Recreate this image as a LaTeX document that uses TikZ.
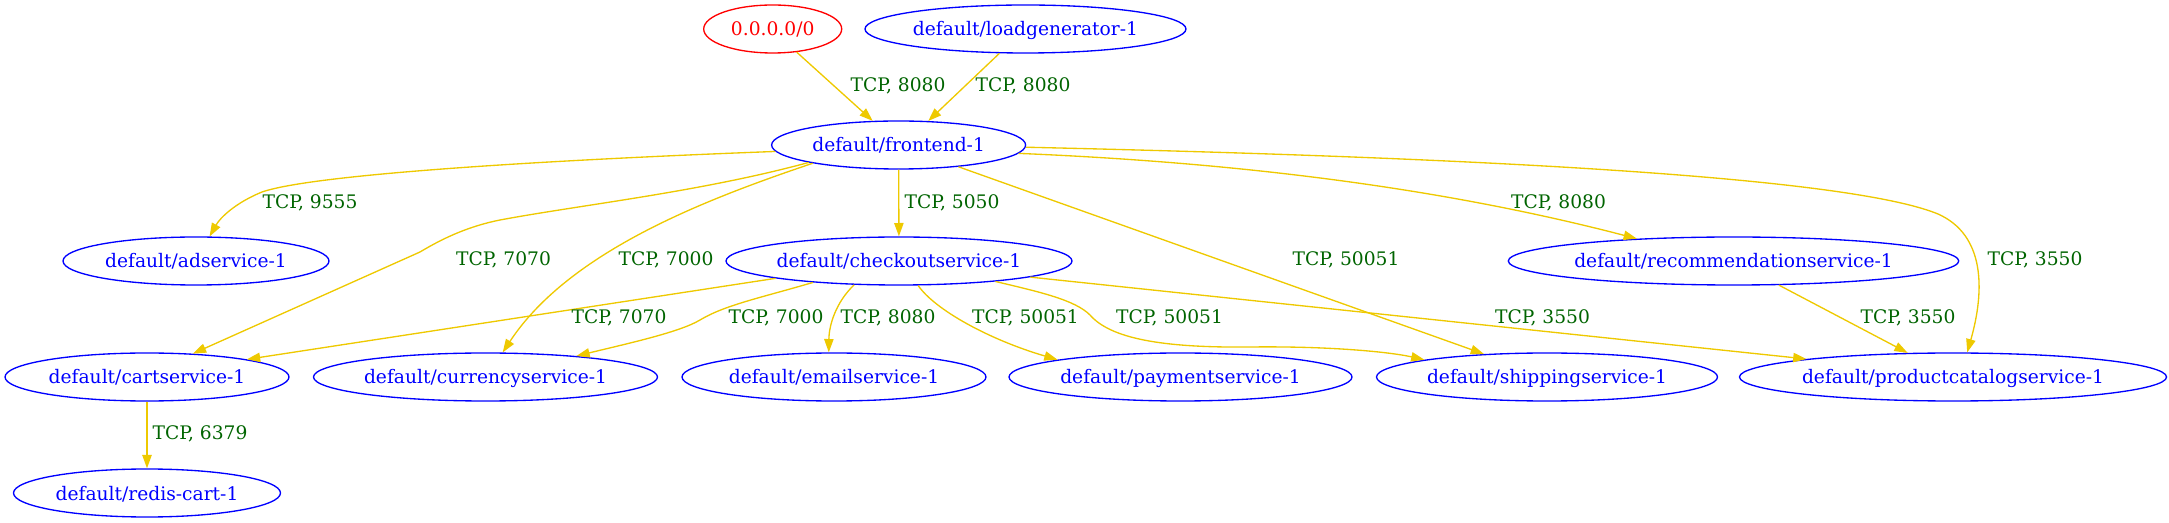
\documentclass[tikz,border=0pt]{standalone}
\usepackage{fontspec}
\setmainfont{DejaVu Serif}
\usetikzlibrary{shapes.geometric,arrows.meta}
\definecolor{edgegold}{HTML}{EEC900}
\definecolor{lblgreen}{HTML}{006400}
\definecolor{nodeblue}{HTML}{0000FF}
\definecolor{nodered}{HTML}{FF0000}
\begin{document}
\begin{tikzpicture}[x=0.75pt,y=-0.75pt,
  svc/.style={ellipse,draw=nodeblue,text=nodeblue,line width=1pt,inner sep=0pt,
    minimum height=36pt,font=\fontsize{14pt}{16pt}\selectfont,text height=10.5pt,text depth=0pt},
  ext/.style={svc,draw=nodered,text=nodered},
  conn/.style={draw=edgegold,line width=1pt,-{Triangle[length=10pt,width=7pt]}},
  lbl/.style={text=lblgreen,inner sep=0pt,font=\fontsize{14pt}{16pt}\selectfont,text height=10.2pt,text depth=0pt}]
\useasboundingbox (0,0) rectangle (2169,523);

% nodes
\node[ext,minimum width=103.5pt] (src) at (772.7,29) {0.0.0.0/0};
\node[svc,minimum width=240.75pt] (lg) at (1025.5,29) {default/loadgenerator-1};
\node[svc,minimum width=190.5pt] (fe) at (898.6,145) {default/frontend-1};
\node[svc,minimum width=199.5pt] (ad) at (196,261) {default/adservice-1};
\node[svc,minimum width=259.5pt] (co) at (899,261) {default/checkoutservice-1};
\node[svc,minimum width=332.25pt] (rec) at (1733.5,261) {default/recommendationservice-1};
\node[svc,minimum width=213pt] (cart) at (147,377) {default/cartservice-1};
\node[svc,minimum width=258pt] (cur) at (485.5,377) {default/currencyservice-1};
\node[svc,minimum width=228pt] (email) at (834,377) {default/emailservice-1};
\node[svc,minimum width=257.25pt] (pay) at (1180.5,377) {default/paymentservice-1};
\node[svc,minimum width=255.75pt] (ship) at (1547,377) {default/shippingservice-1};
\node[svc,minimum width=315.75pt] (pc) at (1953,377) {default/productcatalogservice-1};
\node[svc,minimum width=200.25pt] (redis) at (147,493) {default/redis-cart-1};

% edges
\draw[conn] (src.-44) -- (fe.137);
\draw[conn] (lg.223) -- (fe.39);
\draw[conn] (fe.183) .. controls (600,158) and (320,172) .. (262,192)
  .. controls (235,203) and (220,218) .. (ad.61);
\draw[conn] (fe) -- (co);
\draw[conn] (fe.191) .. controls (700,192) and (580,205) .. (500,220)
  .. controls (470,226) and (445,237) .. (420,252) -- (cart.27);
\draw[conn] (fe.192) .. controls (710,198) and (570,250) .. (cur.55);
\draw[conn] (fe.-4) .. controls (1250,163) and (1450,190) .. (rec.167);
\draw[conn] (fe.-1) .. controls (1500,158) and (1850,178) .. (1938,214)
  .. controls (1985,235) and (1985,290) .. (pc.60);
\draw[conn] (fe.-20) -- (ship.160);
\draw[conn] (co.188) -- (cart.10);
\draw[conn] (co.194) .. controls (760,298) and (725,305) .. (700,320)
  .. controls (680,332) and (630,343) .. (cur.13);
\draw[conn] (co.208) .. controls (836,302) and (829,325) .. (email.102);
\draw[conn] (co.-52) .. controls (935,310) and (990,340) .. (pay.172);
\draw[conn] (co.-12) .. controls (1040,292) and (1075,300) .. (1090,315)
  .. controls (1110,338) and (1160,348) .. (1250,347)
  .. controls (1330,346) and (1390,352) .. (ship.172);
\draw[conn] (co.-7) -- (pc.173.5);
\draw[conn] (rec.-28) -- (pc.152);
\draw[conn] (cart) -- (redis);

% labels
\node[lbl] (l1) at (898,85) {TCP, 8080};
\node[lbl] (l2) at (1023,85) {TCP, 8080};
\node[lbl] (l3) at (310,202) {TCP, 9555};
\node[lbl] (l4) at (952,202) {TCP, 5050};
\node[lbl] (l5) at (503.5,259) {TCP, 7070};
\node[lbl] (l6) at (666,259) {TCP, 7000};
\node[lbl] (l7) at (1558.5,202) {TCP, 8080};
\node[lbl] (l8) at (2035,259) {TCP, 3550};
\node[lbl] (l9) at (1346,259) {TCP, 50051};
\node[lbl] (l10) at (619,317) {TCP, 7070};
\node[lbl] (l11) at (776,317) {TCP, 7000};
\node[lbl] (l12) at (888,317) {TCP, 8080};
\node[lbl] (l13) at (1025.5,317) {TCP, 50051};
\node[lbl] (l14) at (1169.5,317) {TCP, 50051};
\node[lbl] (l15) at (1542.5,317) {TCP, 3550};
\node[lbl] (l16) at (1908,317) {TCP, 3550};
\node[lbl] (l17) at (200,433) {TCP, 6379};
\end{tikzpicture}
\end{document}
